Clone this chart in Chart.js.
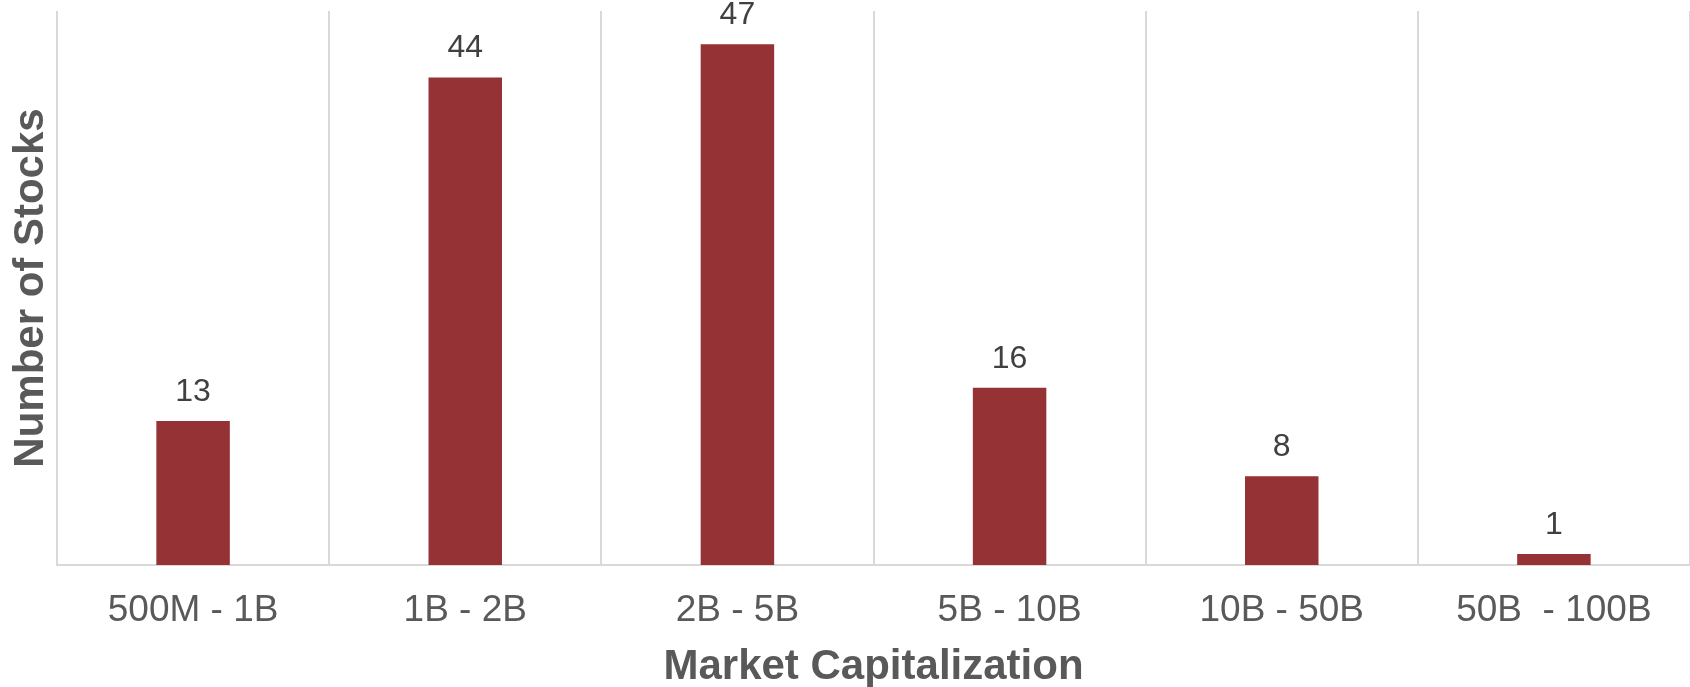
<!DOCTYPE html>
<html lang="en">
<head>
  <meta charset="UTF-8">
  <title>Number of Stocks by Market Capitalization</title>
  <style>
    html, body {
      margin: 0;
      padding: 0;
      background: #ffffff;
    }
    .chart-container {
      width: 1690px;
      height: 687px;
    }
  </style>
  <script src="https://cdn.jsdelivr.net/npm/chart.js"></script>
</head>
<body>
  <div class="chart-container">
    <canvas id="capChart"></canvas>
  </div>

  <script>
    // Chart data
    const categories = ['500M - 1B', '1B - 2B', '2B - 5B', '5B - 10B', '10B - 50B', '50B  - 100B'];
    const stockCounts = [13, 44, 47, 16, 8, 1];

    // Draws the value above each bar
    const valueLabels = {
      id: 'valueLabels',
      afterDatasetsDraw(chart) {
        const ctx = chart.ctx;
        const meta = chart.getDatasetMeta(0);
        ctx.save();
        ctx.font = '32px "Liberation Sans", Arial, sans-serif';
        ctx.fillStyle = '#404040';
        ctx.textAlign = 'center';
        ctx.textBaseline = 'alphabetic';
        meta.data.forEach((bar, i) => {
          ctx.fillText(String(stockCounts[i]), bar.x, bar.y - 20);
        });
        ctx.restore();
      }
    };

    const ctx = document.getElementById('capChart').getContext('2d');
    const capChart = new Chart(ctx, {
      type: 'bar',
      data: {
        labels: categories,
        datasets: [{
          label: 'Number of Stocks',
          data: stockCounts,
          backgroundColor: '#953235',
          borderWidth: 0,
          barPercentage: 0.27,
          categoryPercentage: 1
        }]
      },
      options: {
        responsive: true,
        maintainAspectRatio: false,
        animation: false,
        layout: {
          padding: { top: 11, right: 0, bottom: 0, left: 0 }
        },
        plugins: {
          legend: { display: false },
          tooltip: { enabled: false }
        },
        scales: {
          x: {
            grid: {
              display: true,
              offset: true,
              color: '#d9d9d9',
              lineWidth: 2,
              drawTicks: false
            },
            border: {
              display: true,
              color: '#d9d9d9',
              width: 2
            },
            ticks: {
              color: '#595959',
              padding: 23.5,
              maxRotation: 0,
              autoSkip: false,
              font: { family: '"Liberation Sans", Arial, sans-serif', size: 37 }
            },
            title: {
              display: true,
              text: 'Market Capitalization',
              color: '#595959',
              // negative top padding pulls the title up under the tick labels
              padding: { top: -10.4, bottom: -1 },
              font: { family: '"Liberation Sans", Arial, sans-serif', size: 42, weight: 'bold', lineHeight: 1.0 }
            }
          },
          y: {
            min: 0,
            max: 50,
            grid: { display: false, drawTicks: false },
            border: { display: false },
            ticks: { display: false },
            title: {
              display: true,
              text: 'Number of Stocks',
              color: '#595959',
              padding: { top: 6, bottom: 0.6 },
              font: { family: '"Liberation Sans", Arial, sans-serif', size: 42, weight: 'bold' }
            }
          }
        }
      },
      plugins: [valueLabels]
    });
  </script>
</body>
</html>
